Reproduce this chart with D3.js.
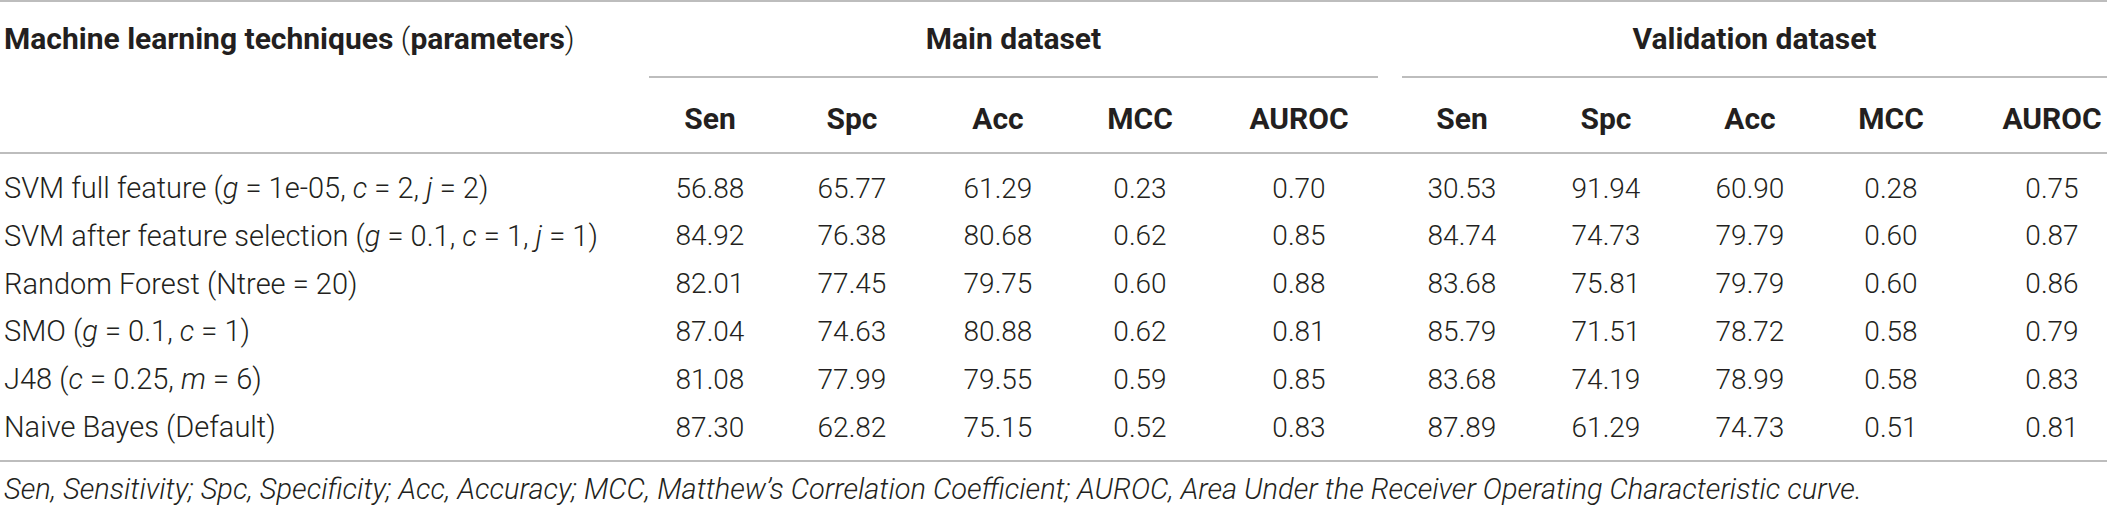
<!DOCTYPE html>
<html>
<head>
<meta charset="utf-8">
<script src="https://cdn.jsdelivr.net/npm/d3@7"></script>
<style>
  html, body { margin: 0; padding: 0; background: #fff; }
  svg { display: block; }
</style>
</head>
<body>
<div id="chart"></div>
<script>
// rows of the table, *x* marks an italic run
const techniques = [
  "SVM full feature (*g* = 1e-05, *c* = 2, *j* = 2)",
  "SVM after feature selection (*g* = 0.1, *c* = 1, *j* = 1)",
  "Random Forest (Ntree = 20)",
  "SMO (*g* = 0.1, *c* = 1)",
  "J48 (*c* = 0.25, *m* = 6)",
  "Naive Bayes (Default)"
];
const groups = ["Main dataset", "Validation dataset"];
const metrics = ["Sen", "Spc", "Acc", "MCC", "AUROC"];

const mainSen   = [56.88, 84.92, 82.01, 87.04, 81.08, 87.30];
const mainSpc   = [65.77, 76.38, 77.45, 74.63, 77.99, 62.82];
const mainAcc   = [61.29, 80.68, 79.75, 80.88, 79.55, 75.15];
const mainMCC   = [0.23, 0.62, 0.60, 0.62, 0.59, 0.52];
const mainAUROC = [0.70, 0.85, 0.88, 0.81, 0.85, 0.83];

const valSen   = [30.53, 84.74, 83.68, 85.79, 83.68, 87.89];
const valSpc   = [91.94, 74.73, 75.81, 71.51, 74.19, 61.29];
const valAcc   = [60.90, 79.79, 79.79, 78.72, 78.99, 74.73];
const valMCC   = [0.28, 0.60, 0.60, 0.58, 0.58, 0.51];
const valAUROC = [0.75, 0.87, 0.86, 0.79, 0.83, 0.81];

const footnote = "Sen, Sensitivity; Spc, Specificity; Acc, Accuracy; MCC, Matthew\u2019s Correlation Coefficient; AUROC, Area Under the Receiver Operating Characteristic curve.";

const columns = [
  { group: 0, metric: "Sen",   values: mainSen },
  { group: 0, metric: "Spc",   values: mainSpc },
  { group: 0, metric: "Acc",   values: mainAcc },
  { group: 0, metric: "MCC",   values: mainMCC },
  { group: 0, metric: "AUROC", values: mainAUROC },
  { group: 1, metric: "Sen",   values: valSen },
  { group: 1, metric: "Spc",   values: valSpc },
  { group: 1, metric: "Acc",   values: valAcc },
  { group: 1, metric: "MCC",   values: valMCC },
  { group: 1, metric: "AUROC", values: valAUROC }
];

const width = 2107, height = 505;
const ink = "#231f20", rule = "#bdbdbd";
const font = "Roboto, 'Liberation Sans', Arial, sans-serif";
const headSize = 30, textSize = 29, numSize = 28;

const svg = d3.select("#chart")
  .append("svg")
  .attr("width", width)
  .attr("height", height)
  .style("font-family", font);

// layout of the column bands
const groupSpans = [[649, 1378], [1402, 2107]];
const colCenters = [710, 852, 998, 1140, 1299, 1462, 1606, 1750, 1891, 2052];
const x = d3.scaleOrdinal()
  .domain(d3.range(columns.length))
  .range(colCenters);

const y = d3.scalePoint()
  .domain(d3.range(techniques.length))
  .range([188, 427]);

const fmt = d3.format(".2f");

// horizontal rules
const hline = (x1, x2, yy) => svg.append("line")
  .attr("x1", x1).attr("x2", x2)
  .attr("y1", yy).attr("y2", yy)
  .attr("stroke", rule)
  .attr("stroke-width", 2);

hline(0, width, 1);
groupSpans.forEach(s => hline(s[0], s[1], 77));
hline(0, width, 153);
hline(0, width, 461);

// header
const title = svg.append("text")
  .attr("x", 4)
  .attr("y", 38)
  .attr("dominant-baseline", "central")
  .style("font-size", headSize + "px")
  .style("font-weight", 700)
  .attr("fill", ink);
title.append("tspan").text("Machine learning techniques ");
title.append("tspan").style("font-weight", 300).text("(");
title.append("tspan").text("parameters");
title.append("tspan").style("font-weight", 300).text(")");

svg.selectAll(".group-label")
  .data(groups)
  .enter()
  .append("text")
  .attr("class", "group-label")
  .attr("x", (d, i) => (groupSpans[i][0] + groupSpans[i][1]) / 2)
  .attr("y", 38)
  .attr("text-anchor", "middle")
  .attr("dominant-baseline", "central")
  .style("font-size", headSize + "px")
  .style("font-weight", 700)
  .attr("fill", ink)
  .text(d => d);

svg.selectAll(".metric-label")
  .data(columns)
  .enter()
  .append("text")
  .attr("class", "metric-label")
  .attr("x", (d, i) => x(i))
  .attr("y", 118)
  .attr("text-anchor", "middle")
  .attr("dominant-baseline", "central")
  .style("font-size", headSize + "px")
  .style("font-weight", 700)
  .attr("fill", ink)
  .text(d => d.metric);

// row labels with italic parameter names
const labels = svg.selectAll(".row-label")
  .data(techniques)
  .enter()
  .append("text")
  .attr("class", "row-label")
  .attr("x", 4)
  .attr("y", (d, i) => y(i))
  .attr("dominant-baseline", "central")
  .style("font-size", textSize + "px")
  .style("font-weight", 300)
  .attr("fill", ink);

labels.each(function(d) {
  const t = d3.select(this);
  d.split("*").forEach((part, k) => {
    if (!part) return;
    t.append("tspan")
      .style("font-style", k % 2 ? "italic" : "normal")
      .text(part);
  });
});

// cell values
columns.forEach((col, ci) => {
  svg.selectAll(".cell-" + ci)
    .data(col.values)
    .enter()
    .append("text")
    .attr("class", "cell-" + ci)
    .attr("x", x(ci))
    .attr("y", (d, i) => y(i))
    .attr("text-anchor", "middle")
    .attr("dominant-baseline", "central")
    .style("font-size", numSize + "px")
    .style("font-weight", 300)
    .attr("fill", ink)
    .text(d => fmt(d));
});

svg.append("text")
  .attr("x", 4)
  .attr("y", 489)
  .attr("dominant-baseline", "central")
  .style("font-size", textSize + "px")
  .style("font-weight", 300)
  .style("font-style", "italic")
  .attr("fill", ink)
  .text(footnote);
</script>
</body>
</html>
